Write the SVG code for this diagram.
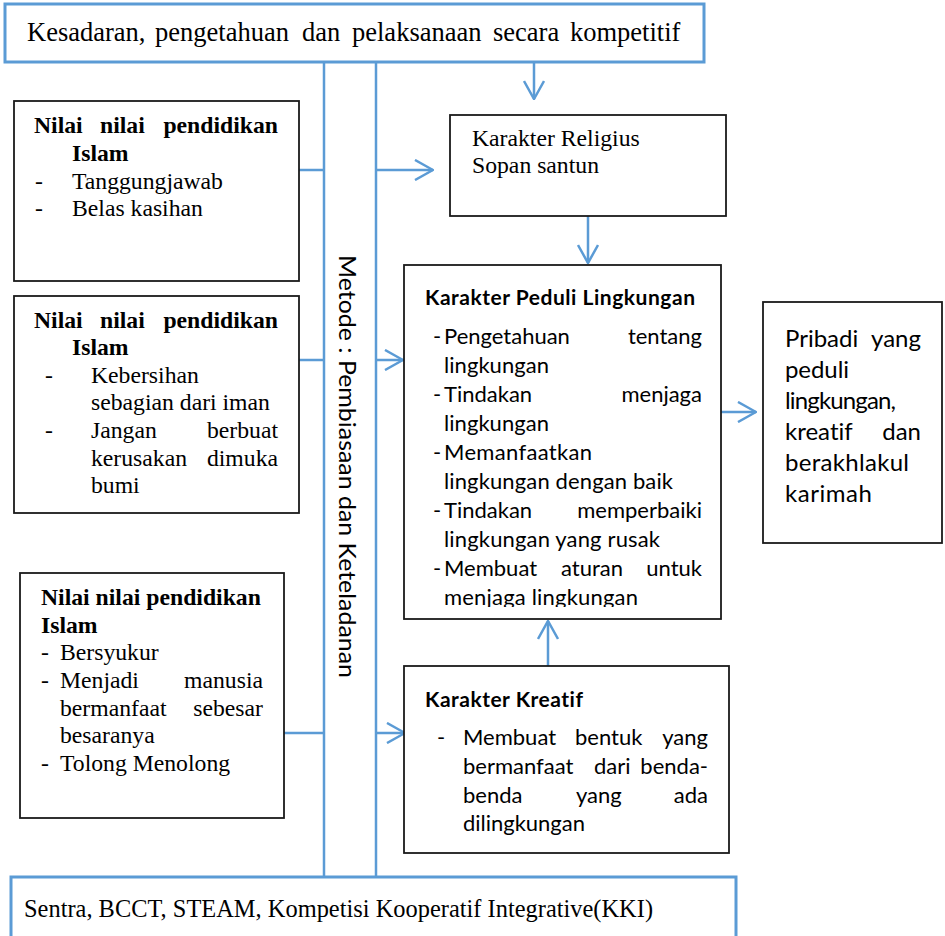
<svg xmlns="http://www.w3.org/2000/svg" width="945" height="936" viewBox="0 0 945 936">
<defs>
<style>
.bb{fill:#fff;stroke:#1a1a1a;stroke-width:1.8}
.blue{fill:#fff;stroke:#5B9BD5;stroke-width:3}
.ln{fill:none;stroke:#5B9BD5;stroke-width:2.5}
.tr{font-family:"Liberation Serif","Times New Roman",serif;font-size:23.7px;fill:#000}
.trb{font-family:"Liberation Serif","Times New Roman",serif;font-size:23.7px;font-weight:bold;fill:#000}
.ca{font-family:Lato,"Open Sans",sans-serif;font-size:22px;fill:#000;font-variant-ligatures:none}
.cab{font-family:Lato,"Open Sans",sans-serif;font-size:21px;font-weight:bold;fill:#000;font-variant-ligatures:none}
.cap{font-family:Lato,"Open Sans",sans-serif;font-size:24px;fill:#000;font-variant-ligatures:none}
.end{text-anchor:end}
</style>
<marker id="ah" viewBox="0 0 20 22" refX="19" refY="11" markerWidth="20" markerHeight="22" markerUnits="userSpaceOnUse" orient="auto"><path d="M1,1 L19,11 L1,21" fill="none" stroke="#5B9BD5" stroke-width="2.5"/></marker>
<clipPath id="pc"><rect x="404" y="265" width="317" height="342"/></clipPath>
</defs>
<rect width="945" height="936" fill="#fff"/>

<g id="connectors">
<line class="ln" x1="324" y1="62" x2="324" y2="877"/>
<line class="ln" x1="376" y1="62" x2="376" y2="877"/>
<line class="ln" x1="534" y1="62" x2="534" y2="99" marker-end="url(#ah)"/>
<line class="ln" x1="299" y1="170" x2="324" y2="170"/>
<line class="ln" x1="376" y1="170" x2="433" y2="170" marker-end="url(#ah)"/>
<line class="ln" x1="299" y1="360" x2="324" y2="360"/>
<line class="ln" x1="376" y1="360" x2="403" y2="360" marker-end="url(#ah)"/>
<line class="ln" x1="284" y1="733" x2="324" y2="733"/>
<line class="ln" x1="376" y1="733" x2="405" y2="733" marker-end="url(#ah)"/>
<line class="ln" x1="588" y1="216" x2="588" y2="263" marker-end="url(#ah)"/>
<line class="ln" x1="548" y1="666" x2="548" y2="621" marker-end="url(#ah)"/>
<line class="ln" x1="721" y1="412" x2="756" y2="412" marker-end="url(#ah)"/>
<text class="cap" transform="translate(339,255) rotate(90)" x="0" y="0" textLength="423" lengthAdjust="spacingAndGlyphs">Metode : Pembiasaan dan Keteladanan</text>
</g>

<g id="top">
<rect class="blue" x="5" y="4" width="699" height="58"/>
<g class="tr" style="font-size:26.5px">
<text x="27" y="41">Kesadaran,</text>
<text x="155" y="41">pengetahuan</text>
<text x="302" y="41">dan</text>
<text x="352" y="41">pelaksanaan</text>
<text x="493" y="41">secara</text>
<text x="570" y="41">kompetitif</text>
</g>
</g>

<g id="bottom">
<rect class="blue" x="11" y="877" width="725" height="80"/>
<text class="tr" x="24" y="917" style="font-size:24.4px" textLength="629">Sentra, BCCT, STEAM, Kompetisi Kooperatif Integrative(KKI)</text>
</g>

<g id="nilai1">
<rect class="bb" x="14" y="101" width="285" height="180"/>
<text class="trb" x="34" y="133">Nilai</text>
<text class="trb" x="100" y="133">nilai</text>
<text class="trb end" x="278" y="133">pendidikan</text>
<text class="trb" x="72" y="161">Islam</text>
<text class="tr" x="35" y="189">-</text>
<text class="tr" x="72" y="189">Tanggungjawab</text>
<text class="tr" x="35" y="216">-</text>
<text class="tr" x="72" y="216">Belas kasihan</text>
</g>

<g id="nilai2">
<rect class="bb" x="14" y="296" width="285" height="217"/>
<text class="trb" x="34" y="328">Nilai</text>
<text class="trb" x="100" y="328">nilai</text>
<text class="trb end" x="278" y="328">pendidikan</text>
<text class="trb" x="72" y="355">Islam</text>
<text class="tr" x="45" y="383">-</text>
<text class="tr" x="91" y="383">Kebersihan</text>
<text class="tr" x="91" y="410">sebagian dari iman</text>
<text class="tr" x="45" y="438">-</text>
<text class="tr" x="91" y="438">Jangan</text>
<text class="tr end" x="278" y="438">berbuat</text>
<text class="tr" x="91" y="466">kerusakan</text>
<text class="tr end" x="278" y="466">dimuka</text>
<text class="tr" x="91" y="493">bumi</text>
</g>

<g id="nilai3">
<rect class="bb" x="20" y="573" width="264" height="245"/>
<text class="trb" x="41" y="605">Nilai nilai pendidikan</text>
<text class="trb" x="41" y="633">Islam</text>
<text class="tr" x="41" y="660">-</text>
<text class="tr" x="60" y="660">Bersyukur</text>
<text class="tr" x="41" y="688">-</text>
<text class="tr" x="60" y="688">Menjadi</text>
<text class="tr end" x="263" y="688">manusia</text>
<text class="tr" x="60" y="716">bermanfaat</text>
<text class="tr end" x="263" y="716">sebesar</text>
<text class="tr" x="60" y="743">besaranya</text>
<text class="tr" x="41" y="771">-</text>
<text class="tr" x="60" y="771">Tolong Menolong</text>
</g>

<g id="religius">
<rect class="bb" x="450" y="115" width="276" height="101"/>
<text class="tr" x="472" y="146">Karakter Religius</text>
<text class="tr" x="472" y="173">Sopan santun</text>
</g>

<g id="peduli">
<rect class="bb" x="404" y="265" width="317" height="354"/>
<text class="cab" x="425" y="305" textLength="270">Karakter Peduli Lingkungan</text>
<g clip-path="url(#pc)" class="ca">
<text x="433" y="344">-</text>
<text x="444" y="344">Pengetahuan</text>
<text class="end" x="702" y="344">tentang</text>
<text x="444" y="373" textLength="105">lingkungan</text>
<text x="433" y="402">-</text>
<text x="444" y="402">Tindakan</text>
<text class="end" x="702" y="402">menjaga</text>
<text x="444" y="431" textLength="105">lingkungan</text>
<text x="433" y="460">-</text>
<text x="444" y="460" textLength="148">Memanfaatkan</text>
<text x="444" y="489" textLength="229">lingkungan dengan baik</text>
<text x="433" y="518">-</text>
<text x="444" y="518">Tindakan</text>
<text class="end" x="702" y="518">memperbaiki</text>
<text x="444" y="547" textLength="216">lingkungan yang rusak</text>
<text x="433" y="576">-</text>
<text x="444" y="576">Membuat</text>
<text x="561" y="576">aturan</text>
<text class="end" x="702" y="576">untuk</text>
<text x="444" y="605" textLength="194">menjaga lingkungan</text>
</g>
</g>

<g id="kreatif">
<rect class="bb" x="404" y="666" width="325" height="187"/>
<text class="cab" x="425" y="707" textLength="158">Karakter Kreatif</text>
<g class="ca">
<text x="437" y="745">-</text>
<text x="463" y="745">Membuat</text>
<text x="575" y="745">bentuk</text>
<text class="end" x="708" y="745">yang</text>
<text x="463" y="774">bermanfaat</text>
<text x="594" y="774">dari</text>
<text class="end" x="708" y="774">benda-</text>
<text x="463" y="803">benda</text>
<text x="576" y="803">yang</text>
<text class="end" x="708" y="803">ada</text>
<text x="463" y="831" textLength="122">dilingkungan</text>
</g>
</g>

<g id="pribadi">
<rect class="bb" x="763" y="302" width="179" height="241"/>
<g class="cap">
<text x="785" y="347">Pribadi</text>
<text class="end" x="921" y="347">yang</text>
<text x="785" y="378" textLength="64">peduli</text>
<text x="785" y="409" textLength="111">lingkungan,</text>
<text x="785" y="440">kreatif</text>
<text class="end" x="921" y="440">dan</text>
<text x="785" y="471" textLength="124">berakhlakul</text>
<text x="785" y="502" textLength="87">karimah</text>
</g>
</g>
</svg>
